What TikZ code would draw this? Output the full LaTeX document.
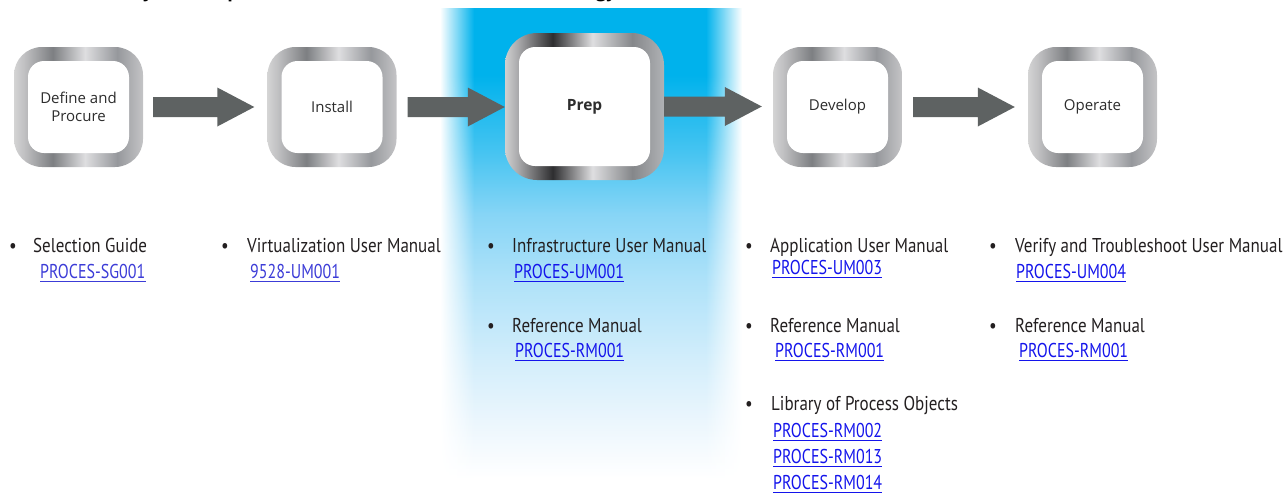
\documentclass[tikz,border=0pt]{standalone}
\usepackage{fontspec}
\setmainfont{Open Sans}
\newfontfamily\boxfont{Open Sans}
\newfontfamily\condfont[FakeStretch=0.85]{PT Sans}
\newfontfamily\numfont[FakeStretch=0.80]{PT Sans}
\usetikzlibrary{calc,fadings}

% text and arrow colours
\definecolor{txt}{RGB}{35,31,32}
\definecolor{boxtxt}{RGB}{45,45,45}
\definecolor{arrowgray}{RGB}{94,98,98}
\definecolor{linkA}{RGB}{60,60,215}
\definecolor{linkB}{RGB}{20,20,235}

% brushed-metal frame of the stage boxes
\definecolor{m0}{RGB}{212,212,212}
\definecolor{m1}{RGB}{192,192,194}
\definecolor{m2}{RGB}{125,127,130}
\definecolor{m3}{RGB}{222,222,224}
\definecolor{m4}{RGB}{150,152,156}
\definecolor{m5}{RGB}{196,196,198}
\pgfdeclarehorizontalshading{metal}{100bp}{color(0bp)=(m0); color(25bp)=(m0); color(29bp)=(m1); color(40bp)=(m2); color(52.5bp)=(m3); color(65bp)=(m4); color(75bp)=(m5); color(100bp)=(m5)}

% darker frame of the highlighted stage
\definecolor{d0}{RGB}{208,208,208}
\definecolor{d1}{RGB}{170,170,172}
\definecolor{d2}{RGB}{46,46,48}
\definecolor{d3}{RGB}{222,222,224}
\definecolor{d4}{RGB}{133,135,138}
\definecolor{d5}{RGB}{176,178,181}
\pgfdeclarehorizontalshading{metaldark}{100bp}{color(0bp)=(d0); color(25bp)=(d0); color(29bp)=(d1); color(40bp)=(d2); color(52.5bp)=(d3); color(65bp)=(d4); color(75bp)=(d5); color(100bp)=(d5)}

% cyan glow behind the highlighted column
\definecolor{g1}{RGB}{0,178,236}
\definecolor{g2}{RGB}{70,196,241}
\definecolor{g3}{RGB}{135,213,246}
\definecolor{g4}{RGB}{175,226,249}
\definecolor{g5}{RGB}{212,238,251}
\definecolor{g6}{RGB}{235,246,253}
\pgfdeclareverticalshading{glow}{100bp}{color(0bp)=(white); color(26bp)=(white); color(32bp)=(g6); color(38bp)=(g5); color(46.5bp)=(g4); color(53.5bp)=(g3); color(60bp)=(g2); color(68bp)=(g1); color(100bp)=(g1)}

\newlength\tA
\newlength\tB
\newcommand\titlestyle{\boxfont\bfseries\fontsize{18}{22}\selectfont}

\tikzset{
  stage/.style={minimum width=129pt, minimum height=120pt, inner sep=0pt,
    rounded corners=28pt, shade, shading=metal, text=boxtxt, align=center,
    font=\boxfont\fontsize{15}{18.5}\selectfont,
    path picture={\fill[white, rounded corners=16pt]
      ([shift={(14pt,-14pt)}]path picture bounding box.north west) rectangle
      ([shift={(-14pt,14pt)}]path picture bounding box.south east);}},
  keystage/.style={stage, minimum width=159pt, minimum height=147pt,
    rounded corners=32pt, shading=metaldark,
    font=\boxfont\bfseries\fontsize{15.5}{18.5}\selectfont},
  item/.style={anchor=base west, inner sep=0pt, text=txt,
    font=\condfont\fontsize{20}{24}\selectfont},
  dot/.style={item, anchor=base},
  number/.style={item, font=\numfont\fontsize{20}{24}\selectfont},
}

% block arrow from point #1 to tip #2
\newcommand\blockarrow[2]{%
  \fill[arrowgray] let \p1=#1, \p2=#2 in
    (\x1,\y1+10pt) -- (\x2-37pt,\y1+10pt) -- (\x2-37pt,\y1+19.5pt) -- (\x2,\y1)
    -- (\x2-37pt,\y1-19.5pt) -- (\x2-37pt,\y1-10pt) -- (\x1,\y1-10pt) -- cycle;}

% underlined document number: name, position, text, colour, rule width
\newcommand\doclink[5]{%
  \node[number, text=#4] (#1) at (#2) {#3};
  \draw[#4, line width=#5] ([yshift=-3.5pt]#1.base west) -- ([yshift=-3.5pt]#1.base east);}

\begin{document}
\settowidth\tA{\titlestyle PlantPAx 5.0 S}%
\settowidth\tB{\titlestyle PlantPAx 5.0 System Implementation and Documentation Strate}%
\pgfmathsetmacro\ts{453/(\tB-\tA)}%
\pgfmathsetmacro\tx{143-\ts*\tA}%
\begin{tikzpicture}[x=1pt, y=-1pt]
\useasboundingbox (0,0) rectangle (1283,493);

% glow column
\shade[shading=glow, path fading=west] (440,8) rectangle (474,488);
\shade[shading=glow] (474,8) rectangle (706,488);
\shade[shading=glow, path fading=east] (706,8) rectangle (742,488);

% heading, only its lowest edge lies inside the picture
\begin{scope}
  \clip (0,0) rectangle (1283,493);
  \node[anchor=base west, inner sep=0pt, text=black] (title) at (\tx,-2.5)
    {\scalebox{\ts}{\titlestyle PlantPAx 5.0 System Implementation and Documentation Strategy}};
\end{scope}

% stages
\node[stage] (define) at (78.5,107) {Define and\\Procure};
\node[stage] (install) at (332,107) {Install};
\node[keystage] (prep) at (584.5,106.5) {Prep};
\node[stage] (develop) at (837.5,107) {Develop};
\node[stage] (operate) at (1092.5,107) {Operate};

% flow arrows
\blockarrow{($(define.east)+(10,0)$)}{($(install.west)+(-13,0)$)}
\blockarrow{($(install.east)+(11,0)$)}{(prep.west)}
\blockarrow{(prep.east)}{($(develop.west)+(-11,0)$)}
\blockarrow{($(develop.east)+(11,0)$)}{($(operate.west)+(-13,0)$)}

% documents for Define and Procure
\node[dot] (b1) at (13,252) {•};
\node[item] (t1) at (33,252) {Selection Guide};
\doclink{l1}{40,278}{PROCES-SG001}{linkA}{1.1pt}

% documents for Install
\node[dot] (b2) at (225,252) {•};
\node[item] (t2) at (247,252) {Virtualization User Manual};
\doclink{l2}{250,278}{9528-UM001}{linkA}{1.1pt}

% documents for Prep
\node[dot] (b3) at (491,252) {•};
\node[item] (t3) at (512,252) {Infrastructure User Manual};
\doclink{l3}{514,278}{PROCES-UM001}{linkB}{1.6pt}
\node[dot] (b4) at (491,332) {•};
\node[item] (t4) at (512,332) {Reference Manual};
\doclink{l4}{515,357}{PROCES-RM001}{linkB}{1.6pt}

% documents for Develop
\node[dot] (b5) at (749,252) {•};
\node[item] (t5) at (770,252) {Application User Manual};
\doclink{l5}{772,274}{PROCES-UM003}{linkB}{1.6pt}
\node[dot] (b6) at (749,332) {•};
\node[item] (t6) at (770,332) {Reference Manual};
\doclink{l6}{775,357}{PROCES-RM001}{linkB}{1.6pt}
\node[dot] (b7) at (749,410) {•};
\node[item] (t7) at (771,410) {Library of Process Objects};
\doclink{l7}{773,437}{PROCES-RM002}{linkB}{1.6pt}
\doclink{l8}{773,463}{PROCES-RM013}{linkB}{1.6pt}
\doclink{l9}{773,489}{PROCES-RM014}{linkB}{1.6pt}

% documents for Operate
\node[dot] (b8) at (993,252) {•};
\node[item] (t8) at (1015,252) {Verify and Troubleshoot User Manual};
\doclink{l10}{1016,278}{PROCES-UM004}{linkB}{1.6pt}
\node[dot] (b9) at (993,332) {•};
\node[item] (t9) at (1015,332) {Reference Manual};
\doclink{l11}{1019,357}{PROCES-RM001}{linkB}{1.6pt}
\end{tikzpicture}
\end{document}
